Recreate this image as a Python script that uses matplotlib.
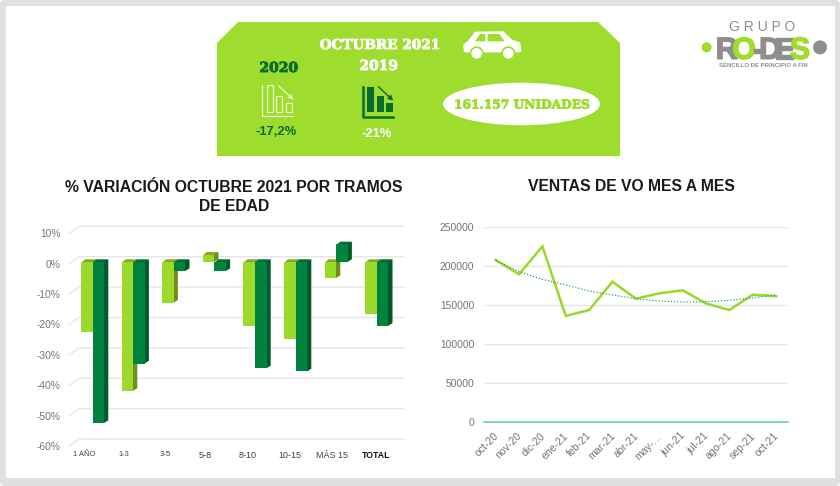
import matplotlib
matplotlib.use("Agg")
import matplotlib.pyplot as plt
import matplotlib.patheffects as pe
from matplotlib.patches import Polygon, Rectangle, Ellipse, Circle
from matplotlib.transforms import ScaledTranslation

# ---- data ----
age_groups = ["1 AÑO", "1-3", "3-5", "5-8", "8-10", "10-15", "MÁS 15", "TOTAL"]
var_2020 = [-23, -42.4, -13.4, 2.4, -21, -25.4, -5.3, -17.2]
var_2019 = [-53, -33.4, -3, -3, -35, -36, 5.8, -21]
pct_ticks = [10, 0, -10, -20, -30, -40, -50, -60]

months = ["oct-20", "nov-20", "dic-20", "ene-21", "feb-21", "mar-21", "abr-21",
          "may-…", "jun-21", "jul-21", "ago-21", "sep-21", "oct-21"]
sales = [207400, 189100, 224900, 135900, 143500, 179700, 158000,
         164800, 168700, 152000, 143500, 163100, 161157]
trend = [207000, 192500, 182700, 175500, 167800, 162700, 158000,
         155000, 153700, 154200, 155900, 158900, 163100]
sales_ticks = [0, 50000, 100000, 150000, 200000, 250000]

# ---- style ----
W, H = 840, 486
LIGHT, LIGHT_TOP, LIGHT_SIDE = "#9BD92B", "#86A924", "#6F8E1E"
DARK, DARK_TOP, DARK_SIDE = "#00833E", "#006E34", "#005A2B"
PANEL = "#9EDC2D"
DEEP = "#0B6B2E"
GRID = "#E6E6E6"
GREY = "#757575"
SANS = "Liberation Sans"
SERIF = "DejaVu Serif"
plt.rcParams["font.family"] = SANS

fig = plt.figure(figsize=(W / 100, H / 100), dpi=100, facecolor="white")


def axes_box(left, top, right, bottom):
    return [left / W, 1 - bottom / H, (right - left) / W, (bottom - top) / H]


def heavy(color, w=0.6):
    return [pe.withStroke(linewidth=w, foreground=color)]


# ---- page decoration, in pixel coordinates ----
bg = fig.add_axes([0, 0, 1, 1], zorder=0)
bg.set_xlim(0, W)
bg.set_ylim(H, 0)
bg.axis("off")
c = 3
bg.add_patch(Polygon([(c, 0), (W - c, 0), (W, c), (W, H - c), (W - c, H), (c, H), (0, H - c), (0, c)],
                     fc="#E0E0E0", ec="none"))
bg.add_patch(Rectangle((6, 6), 829, 472, fc="white", ec="none"))

# header panel
bg.add_patch(Polygon([(238, 22), (598, 22), (620, 43), (620, 156), (217, 156), (217, 43)],
                     fc=PANEL, ec="none"))
bg.text(380, 45, "OCTUBRE 2021", color="white", family=SERIF, weight="bold", fontsize=9.8,
        ha="center", va="center", path_effects=heavy("white"))
bg.text(278.7, 68, "2020", color=DEEP, family=SERIF, weight="bold", fontsize=10,
        ha="center", va="center", path_effects=heavy(DEEP))
bg.text(378.7, 66, "2019", color="white", family=SERIF, weight="bold", fontsize=10,
        ha="center", va="center", path_effects=heavy("white"))
bg.text(276, 132, "-17,2%", color=DEEP, fontsize=9.4, weight="bold", ha="center", va="center")
bg.text(377, 134, "-21%", color="white", fontsize=9.4, weight="bold", ha="center", va="center")
bg.add_patch(Ellipse((521.5, 104), 157, 42.5, fc="white", ec="none"))
bg.text(522, 105, "161.157 UNIDADES", color=PANEL, family=SERIF, weight="bold", fontsize=8.8,
        ha="center", va="center", path_effects=heavy(PANEL))


def zx(X):
    return 250 + X / 3


def zy(Y):
    return 75 + Y / 3


def rect(x0, y0, x1, y1, **kw):
    bg.add_patch(Rectangle((zx(x0), zy(y0)), (x1 - x0) / 3, (y1 - y0) / 3, **kw))


# white outline icon
bg.plot([zx(37), zx(37), zx(128)], [zy(30), zy(122), zy(122)], color="#EAF7CF", lw=0.9)
for b in [(50, 30, 68, 110), (78, 62, 97, 110), (107, 85, 127, 110)]:
    rect(*b, fc="none", ec="#EAF7CF", lw=0.9)
bg.annotate("", xy=(zx(130), zy(74)), xytext=(zx(85), zy(32)),
            arrowprops=dict(arrowstyle="->", color="#EAF7CF", lw=0.9, mutation_scale=7,
                            shrinkA=0, shrinkB=0))
# dark solid icon
bg.plot([zx(338), zx(338), zx(430)], [zy(35), zy(125), zy(125)], color=DEEP, lw=1.8)
for b in [(352, 35, 372, 110), (381, 62, 401, 110), (408, 85, 430, 110)]:
    rect(*b, fc=DEEP, ec="none")
bg.annotate("", xy=(zx(430), zy(77)), xytext=(zx(385), zy(35)),
            arrowprops=dict(arrowstyle="-|>", color=DEEP, lw=1.0, mutation_scale=7,
                            shrinkA=0, shrinkB=0))


# car
def cx(X):
    return 210 + X / 3


def cy(Y):
    return 10 + Y / 3


body = [(766, 122), (765, 106), (778, 96), (798, 70), (878, 69), (904, 94), (926, 101), (929, 122)]
bg.add_patch(Polygon([(cx(x), cy(y)) for x, y in body], fc="white", ec="white", lw=2.5,
                     joinstyle="round"))
bg.add_patch(Polygon([(cx(x), cy(y)) for x, y in [(795, 94), (810, 72), (826, 72), (826, 94)]],
                     fc=PANEL, ec="none"))
bg.add_patch(Polygon([(cx(x), cy(y)) for x, y in [(833, 72), (868, 72), (884, 94), (833, 94)]],
                     fc=PANEL, ec="none"))
for X in (800, 895):
    bg.add_patch(Circle((cx(X), cy(130)), 21 / 3, fc=PANEL, ec="none"))
    bg.add_patch(Circle((cx(X), cy(130)), 16 / 3, fc="white", ec="none"))


# logo
def lx(X):
    return 690 + X / 3


def ly(Y):
    return 10 + Y / 3


LOGO_G, LOGO_L = "#8E8E8E", "#9EDC2D"
bg.text(lx(215), ly(51), "G R U P O", color="#8E8E8E", fontsize=10, ha="center", va="center")
bg.add_patch(Circle((lx(50), ly(112)), 5, fc=LOGO_L, ec="none"))
bg.add_patch(Circle((lx(390), ly(112)), 7, fc=LOGO_G, ec="none"))
for ch, X, col in [("R", 110, LOGO_G), ("O", 162, LOGO_L), ("-", 203, LOGO_G),
                   ("D", 240, LOGO_G), ("E", 283, LOGO_G), ("S", 330, LOGO_L)]:
    bg.text(lx(X), ly(112), ch, color=col, fontsize=22, weight="bold", ha="center",
            va="center_baseline", path_effects=heavy(col, 1.0))
bg.text(lx(221), ly(166), "SENCILLO DE PRINCIPIO A FIN", color="#8E8E8E", fontsize=4.3,
        weight="bold", ha="center", va="center")

# ---- left chart: 3D-look bars ----
PX_X, PX_Y = 40.6, 3.04
ax = fig.add_axes(axes_box(69.3, 231.6, 394, 444.4), zorder=1)
ax.patch.set_alpha(0)
ax.set_xlim((69.3 - 92.7) / PX_X, (394 - 92.7) / PX_X)
ax.set_ylim(-60, 10)
for s in ax.spines.values():
    s.set_visible(False)

dx, dy = 4 / PX_X, 2.7 / PX_Y
bw = 11.6 / PX_X
lap = 0.6 / PX_X
for v in pct_ticks:
    xl = ax.get_xlim()[0]
    back = v + 5.3 / PX_Y
    ax.plot([xl, xl + 9.7 / PX_X, xl + 334.7 / PX_X], [v - 1.7 / PX_Y, back, back],
            color=GRID, lw=1.0, clip_on=False, zorder=1)


def bar3d(x, w, v, front, top, side, z):
    ax.bar(x, v, width=w, align="edge", color=front, zorder=z + 0.2)
    hi, lo = max(v, 0), min(v, 0)
    ax.fill([x, x + w, x + w + dx, x + dx], [hi - 0.2, hi - 0.2, hi + dy, hi + dy], color=top, lw=0, zorder=z)
    ax.fill([x + w - lap, x + w + dx, x + w + dx, x + w - lap], [hi, hi + dy, lo + dy, lo],
            color=side, lw=0, zorder=z + 0.1)


for i, (a, b) in enumerate(zip(var_2020, var_2019)):
    bar3d(i - bw, bw, a, LIGHT, LIGHT_TOP, LIGHT_SIDE, 2)
    bar3d(i, bw, b, DARK, DARK_TOP, DARK_SIDE, 3)

ax.set_yticks(pct_ticks)
ax.set_yticklabels([f"{v}%" for v in pct_ticks], fontsize=7.4, color=GREY)
ax.tick_params(axis="y", length=0, pad=6.5)
for lab in ax.get_yticklabels():
    lab.set_transform(lab.get_transform() + ScaledTranslation(0, -1.7 / 100, fig.dpi_scale_trans))

label_shift = [-9, -9.3, -8.2, -9.5, -7.4, -6, -4.3, -0.5]
label_size = [5.4, 5.3, 5.6, 6.6, 6.5, 6.4, 6.5, 6.3]
ax.set_xticks(range(len(age_groups)))
ax.set_xticklabels(age_groups)
ax.tick_params(axis="x", length=0, pad=5)
for lab, sh, sz in zip(ax.get_xticklabels(), label_shift, label_size):
    lab.set_fontsize(sz)
    lab.set_color("#404040")
    lab.set_transform(lab.get_transform() + ScaledTranslation(sh / 100, 0, fig.dpi_scale_trans))
ax.get_xticklabels()[-1].set_fontweight("bold")
ax.get_xticklabels()[-1].set_color("#111111")

ax.set_title("% VARIACIÓN OCTUBRE 2021 POR TRAMOS\nDE EDAD", fontsize=11.3, weight="bold",
             color="#1a1a1a", linespacing=1.3, x=(234 - 69.3) / 324.7,
             y=(444.4 - 222) / 212.8, va="bottom")

# ---- right chart: monthly sales ----
ax2 = fig.add_axes(axes_box(484, 226.7, 787.7, 422.3), zorder=1)
ax2.patch.set_alpha(0)
ax2.set_xlim(-0.5, 12.5)
ax2.set_ylim(0, 250000)
for s in ax2.spines.values():
    s.set_visible(False)
ax2.set_yticks(sales_ticks)
ax2.set_yticklabels([str(v) for v in sales_ticks], fontsize=7.4, color=GREY)
ax2.grid(axis="y", color=GRID, lw=1.0)
ax2.set_axisbelow(True)
ax2.tick_params(axis="y", length=0, pad=7)
ax2.axhline(0, color="#6FCF97", lw=1.2, clip_on=False, zorder=2)
ax2.plot(range(13), sales, color="#97D92C", lw=1.8, zorder=3, solid_joinstyle="miter")
ax2.plot(range(13), trend, color="#2FA35A", lw=0.9, ls=(0, (1, 1.5)), zorder=4)
ax2.set_xticks(range(13))
ax2.set_xticklabels(months, rotation=45, ha="right", rotation_mode="anchor", fontsize=7.6, color=GREY)
ax2.tick_params(axis="x", length=0, pad=6)
for lab in ax2.get_xticklabels():
    lab.set_transform(lab.get_transform() + ScaledTranslation(-2.5 / 100, 0, fig.dpi_scale_trans))
ax2.set_title("VENTAS DE VO MES A MES", fontsize=11.3, weight="bold", color="#1a1a1a",
              x=(631 - 484) / 303.7, y=(422.3 - 202) / 195.6, va="bottom")

fig.savefig("out.png", dpi=100)
